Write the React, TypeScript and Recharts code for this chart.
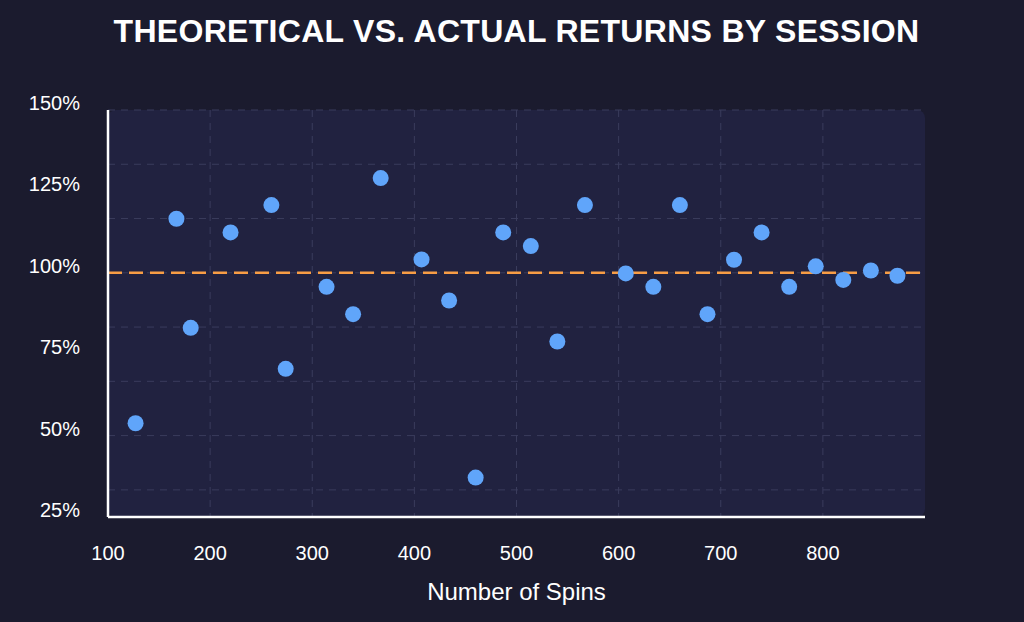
import {
  ScatterChart,
  Scatter,
  XAxis,
  YAxis,
  CartesianGrid,
  ReferenceLine,
  ReferenceArea,
} from "recharts";

// session length (spins) and the return each session actually paid out
const spins = [
  127, 167, 181, 220, 260, 274, 314, 340, 367, 407, 434, 460, 487, 514, 540,
  567, 607, 634, 660, 687, 713, 740, 767, 793, 820, 847, 873,
];
const returnPct = [
  53.8, 116.6, 83.1, 112.4, 120.8, 70.5, 95.7, 87.3, 129.1, 104.1, 91.5, 37.1,
  112.4, 108.2, 78.9, 120.8, 99.8, 95.7, 120.8, 87.3, 104.0, 112.4, 95.7, 102.0,
  97.8, 100.7, 99.1,
];

const theoreticalReturn = 100;

const xTicks = [100, 200, 300, 400, 500, 600, 700, 800];
const yTicks = [25, 50, 75, 100, 125, 150];
const gridX = [200, 300, 400, 500, 600, 700, 800];
const gridY = [33.33, 50, 66.67, 83.33, 100, 116.67, 133.33, 150];

const sessions = spins.map((s, i) => ({ spins: s, actual: returnPct[i] }));

const FONT = '"Liberation Sans", Arial, Helvetica, sans-serif';
const BG = "#1b1b2e";
const PLOT_BG = "#212240";
const GRID = "#3a3c5c";
const TEXT = "#ffffff";

function YTick({ x, y, payload }: any) {
  return (
    <text x={x} y={y} textAnchor="end" fill={TEXT} fontSize={20} fontFamily={FONT}>
      {payload.value}%
    </text>
  );
}

function XTick({ x, y, payload }: any) {
  return (
    <text x={x} y={y + 43} textAnchor="middle" fill={TEXT} fontSize={20} fontFamily={FONT}>
      {payload.value}
    </text>
  );
}

export default function App() {
  return (
    <div
      style={{
        position: "fixed",
        left: 0,
        top: 0,
        width: 1024,
        height: 622,
        background: BG,
        fontFamily: FONT,
        overflow: "hidden",
      }}
    >
      <div
        style={{
          position: "absolute",
          left: 108,
          width: 817,
          top: 12,
          textAlign: "center",
          color: TEXT,
          fontWeight: 700,
          fontSize: 32,
          lineHeight: "38px",
          letterSpacing: 0.3,
        }}
      >
        THEORETICAL VS. ACTUAL RETURNS BY SESSION
      </div>
      <div style={{ position: "absolute", left: 0, top: 0 }}>
        <ScatterChart
          width={1024}
          height={622}
          margin={{ top: 110, right: 99, bottom: 0, left: 0 }}
        >
          <ReferenceArea
            x1={100}
            x2={900}
            y1={25}
            y2={150}
            zIndex={-200}
            shape={(p: any) => (
              <rect x={p.x} y={p.y} width={p.width} height={p.height} rx={8} fill={PLOT_BG} />
            )}
          />
          <CartesianGrid
            stroke={GRID}
            strokeDasharray="7 6"
            horizontalValues={gridY}
            verticalValues={gridX}
          />
          <XAxis
            type="number"
            dataKey="spins"
            domain={[100, 900]}
            ticks={xTicks}
            height={105}
            tickSize={0}
            tickMargin={0}
            tick={<XTick />}
            axisLine={{ stroke: "#ffffff", strokeWidth: 2.5 }}
            label={{
              value: "Number of Spins",
              position: "insideBottom",
              offset: 22,
              fill: TEXT,
              fontSize: 24,
              fontFamily: FONT,
            }}
          />
          <YAxis
            type="number"
            dataKey="actual"
            domain={[25, 150]}
            ticks={yTicks}
            width={108}
            tickSize={0}
            tickMargin={28}
            tick={<YTick />}
            axisLine={{ stroke: "#ffffff", strokeWidth: 2.5 }}
          />
          <ReferenceLine
            y={theoreticalReturn}
            stroke="#f89d45"
            strokeWidth={2.5}
            strokeDasharray="14 7"
          />
          <Scatter
            data={sessions}
            isAnimationActive={false}
            shape={(p: any) => <circle cx={p.cx} cy={p.cy} r={8} fill="#60a5fa" />}
          />
        </ScatterChart>
      </div>
    </div>
  );
}
